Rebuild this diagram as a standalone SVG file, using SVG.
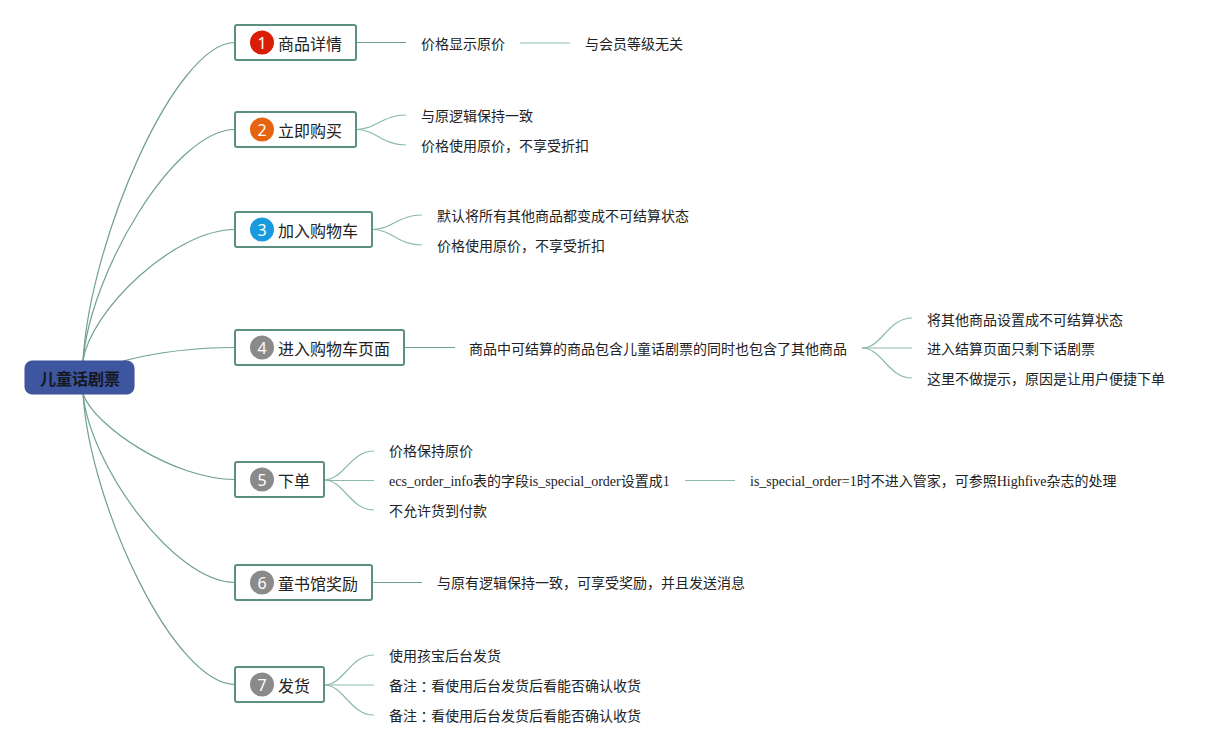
<svg xmlns="http://www.w3.org/2000/svg" width="1225" height="755" viewBox="0 0 1225 755">
<style>
.bg{fill:#ffffff}
.conn path,.conn line{fill:none;stroke:#6fa190;stroke-width:1.2}
.conn .sub{stroke:#8dbbab}
.box{fill:#ffffff;stroke:#5b8f81;stroke-width:2}
.lbl{font-family:"Noto Sans CJK SC","Noto Sans",sans-serif;font-size:16px;fill:#222;dominant-baseline:central}
.num{font-family:"Noto Sans","Noto Sans CJK SC",sans-serif;font-size:16px;fill:#ffffff;text-anchor:middle;dominant-baseline:central}
.txt{font-family:"Liberation Serif","Noto Sans CJK SC",serif;font-size:14px;fill:#222;dominant-baseline:central}
.tc{font-family:"Noto Sans CJK TC",sans-serif}
.root{fill:#3e56a0;stroke:#3a4f92;stroke-width:1}
.roottxt{font-family:"Noto Sans CJK SC",sans-serif;font-size:16px;font-weight:bold;fill:#141820;text-anchor:middle;dominant-baseline:central}
</style>
<rect class="bg" x="0" y="0" width="1225" height="755"/>
<g id="connectors" class="conn">
<path d="M83,361 C90,240 175,42.5 235,42.5"/>
<path d="M83,361 C90,273 174,129.5 235,129.5"/>
<path d="M83,361 C90,311 174,229.5 235,229.5"/>
<path d="M123,361 C150,354 190,347.5 235,347.5"/>
<path d="M83,394 C95,427 174,479.5 235,479.5"/>
<path d="M83,394 C90,465 174,582.5 235,582.5"/>
<path d="M83,394 C90,505 174,684.5 235,684.5"/>
<line x1="356" y1="42.5" x2="406" y2="42.5"/>
<line class="sub" x1="520" y1="43" x2="570" y2="43"/>
<path class="sub" d="M356,129.5 C376,129.5 382,115 406,115"/>
<path class="sub" d="M356,129.5 C376,129.5 382,145 406,145"/>
<path class="sub" d="M372,229.5 C392,229.5 398,215 422,215"/>
<path class="sub" d="M372,229.5 C392,229.5 398,245 422,245"/>
<line x1="404" y1="347.5" x2="455" y2="347.5"/>
<path class="sub" d="M862,348 C882,348 888,318 912,318"/>
<line class="sub" x1="862" y1="348" x2="912" y2="348"/>
<path class="sub" d="M862,348 C882,348 888,378 912,378"/>
<path class="sub" d="M324,480 C344,480 350,451 374,451"/>
<line class="sub" x1="324" y1="480.5" x2="374" y2="480.5"/>
<path class="sub" d="M324,480 C344,480 350,510 374,510"/>
<line class="sub" x1="685" y1="480.5" x2="735" y2="480.5"/>
<line x1="372" y1="582.5" x2="422" y2="582.5"/>
<path class="sub" d="M324,685 C344,685 350,655 374,655"/>
<line class="sub" x1="324" y1="685" x2="374" y2="685"/>
<path class="sub" d="M324,685 C344,685 350,715 374,715"/>
</g>
<g id="root">
<rect class="root" x="25" y="361" width="109" height="33" rx="7"/>
<text class="roottxt" x="80" y="378">儿童话剧票</text>
</g>
<g id="node1">
<rect class="box" x="235" y="25" width="121" height="35" rx="2"/>
<circle cx="262" cy="42.5" r="12" fill="#d91d06"/>
<text class="num" x="262" y="42.5">1</text>
<text class="lbl" x="278" y="43">商品详情</text>
</g>
<g id="node1a"><text class="txt" x="421" y="44">价格显示原价</text></g>
<g id="node1b"><text class="txt" x="585" y="44">与会员等级无关</text></g>
<g id="node2">
<rect class="box" x="235" y="112" width="121" height="35" rx="2"/>
<circle cx="262" cy="129.5" r="12" fill="#e6640f"/>
<text class="num" x="262" y="129.5">2</text>
<text class="lbl" x="278" y="130">立即购买</text>
</g>
<g id="node2a"><text class="txt" x="421" y="116">与原逻辑保持一致</text></g>
<g id="node2b"><text class="txt" x="421" y="146">价格使用原价，不享受折扣</text></g>
<g id="node3">
<rect class="box" x="235" y="212" width="137" height="35" rx="2"/>
<circle cx="262" cy="229.5" r="12" fill="#1a9ade"/>
<text class="num" x="262" y="229.5">3</text>
<text class="lbl" x="278" y="230">加入购物车</text>
</g>
<g id="node3a"><text class="txt" x="437" y="216">默认将所有其他商品都变成不可结算状态</text></g>
<g id="node3b"><text class="txt" x="437" y="246">价格使用原价，不享受折扣</text></g>
<g id="node4">
<rect class="box" x="235" y="330" width="169" height="35" rx="2"/>
<circle cx="262" cy="347.5" r="12" fill="#8a8a8a"/>
<text class="num" x="262" y="347.5">4</text>
<text class="lbl" x="278" y="348">进入购物车页面</text>
</g>
<g id="node4a"><text class="txt" x="469" y="349">商品中可结算的商品包含儿童话剧票的同时也包含了其他商品</text></g>
<g id="node4b"><text class="txt" x="927" y="320">将其他商品设置成不可结算状态</text></g>
<g id="node4c"><text class="txt" x="927" y="349">进入结算页面只剩下话剧票</text></g>
<g id="node4d"><text class="txt" x="927" y="379">这里不做提示，原因是让用户便捷下单</text></g>
<g id="node5">
<rect class="box" x="235" y="462" width="89" height="35" rx="2"/>
<circle cx="262" cy="479.5" r="12" fill="#8a8a8a"/>
<text class="num" x="262" y="479.5">5</text>
<text class="lbl" x="278" y="480">下单</text>
</g>
<g id="node5a"><text class="txt" x="389" y="451">价格保持原价</text></g>
<g id="node5b"><text class="txt" x="389" y="481">ecs_order_info表的字段is_special_order设置成1</text></g>
<g id="node5c"><text class="txt" x="389" y="511">不允许货到付款</text></g>
<g id="node5d"><text class="txt" x="750" y="481">is_special_order=1时不进入管家，可参照Highfive杂志的处理</text></g>
<g id="node6">
<rect class="box" x="235" y="565" width="137" height="35" rx="2"/>
<circle cx="262" cy="582.5" r="12" fill="#8a8a8a"/>
<text class="num" x="262" y="582.5">6</text>
<text class="lbl" x="278" y="583">童书馆奖励</text>
</g>
<g id="node6a"><text class="txt" x="437" y="583">与原有逻辑保持一致，可享受奖励，并且发送消息</text></g>
<g id="node7">
<rect class="box" x="235" y="667" width="89" height="35" rx="2"/>
<circle cx="262" cy="684.5" r="12" fill="#8a8a8a"/>
<text class="num" x="262" y="684.5">7</text>
<text class="lbl" x="278" y="685">发货</text>
</g>
<g id="node7a"><text class="txt" x="389" y="656">使用孩宝后台发货</text></g>
<g id="node7b"><text class="txt" x="389" y="686">备注<tspan class="tc">：</tspan>看使用后台发货后看能否确认收货</text></g>
<g id="node7c"><text class="txt" x="389" y="716">备注<tspan class="tc">：</tspan>看使用后台发货后看能否确认收货</text></g>
</svg>
